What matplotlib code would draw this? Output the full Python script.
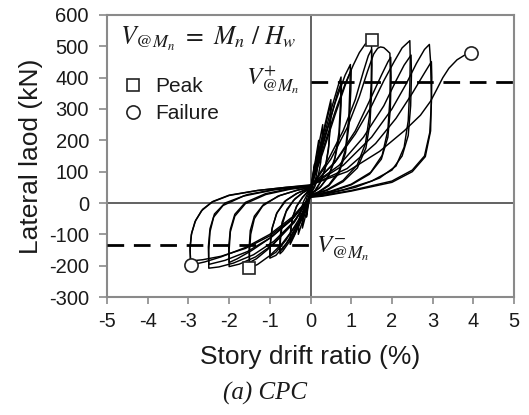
import matplotlib
matplotlib.use("Agg")
import matplotlib.pyplot as plt

plt.rcParams['font.family'] = ['Liberation Sans', 'DejaVu Sans']
plt.rcParams['mathtext.fontset'] = 'stix'
plt.rcParams['axes.unicode_minus'] = False

# ---------------- data ----------------
x_ticks = [-5, -4, -3, -2, -1, 0, 1, 2, 3, 4, 5]
y_ticks = [-300, -200, -100, 0, 100, 200, 300, 400, 500, 600]

V_pos = 387     # V+ @Mn  (kN)
V_neg = -134    # V- @Mn  (kN)

peak_x = [1.5, -1.5]
peak_y = [520, -208]
failure_x = [3.95, -2.94]
failure_y = [480, -198]

loop_01 = [(0.0, 40), (0.05, 85), (0.1, 125), (0.09, 90), (0.06, 60), (0.03, 40), (0.0, 28),
           (-0.05, -5), (-0.1, -45), (-0.09, -20), (-0.06, 10), (-0.03, 28), (0.0, 40)]
loop_02 = [(0.0, 40), (0.1, 120), (0.2, 200), (0.19, 150), (0.16, 100), (0.1, 60), (0.05, 40), (0.0, 28),
           (-0.1, -30), (-0.2, -80), (-0.19, -50), (-0.15, -10), (-0.08, 20), (0.0, 40)]
loop_03 = [(0.0, 42), (0.15, 150), (0.3, 250), (0.29, 195), (0.25, 130), (0.18, 80), (0.1, 50), (0.0, 30),
           (-0.15, -40), (-0.3, -100), (-0.29, -70), (-0.25, -30), (-0.17, 5), (-0.08, 28), (0.0, 42)]
loop_04 = [(0.0, 42), (0.2, 165), (0.4, 275), (0.5, 330), (0.49, 270), (0.45, 185), (0.37, 115), (0.25, 68),
           (0.12, 40), (0.0, 28), (-0.2, -45), (-0.4, -105), (-0.5, -132), (-0.49, -95), (-0.45, -50),
           (-0.35, -12), (-0.2, 18), (-0.08, 35), (0.0, 44)]
loop_05 = [(0.0, 44), (0.2, 155), (0.4, 265), (0.5, 318), (0.49, 255), (0.44, 170), (0.35, 105), (0.22, 62),
           (0.1, 38), (0.0, 26), (-0.2, -48), (-0.4, -102), (-0.5, -125), (-0.49, -88), (-0.44, -45),
           (-0.33, -8), (-0.18, 20), (0.0, 45)]
loop_06 = [(0.0, 45), (0.25, 175), (0.5, 295), (0.68, 375), (0.75, 402), (0.74, 330), (0.7, 225), (0.6, 145),
           (0.45, 88), (0.25, 52), (0.0, 28), (-0.25, -58), (-0.5, -120), (-0.68, -153), (-0.75, -162),
           (-0.74, -120), (-0.7, -72), (-0.6, -28), (-0.42, 8), (-0.2, 32), (0.0, 46)]
loop_07 = [(0.0, 46), (0.25, 160), (0.5, 272), (0.66, 350), (0.76, 385), (0.75, 310), (0.7, 205), (0.58, 130),
           (0.42, 80), (0.22, 48), (0.0, 27), (-0.25, -52), (-0.5, -112), (-0.68, -146), (-0.76, -155),
           (-0.75, -112), (-0.7, -62), (-0.58, -20), (-0.38, 14), (-0.18, 34), (0.0, 47)]
loop_08 = [(0.0, 47), (0.3, 190), (0.6, 318), (0.85, 408), (0.98, 442), (0.97, 380), (0.94, 270), (0.86, 172),
           (0.7, 102), (0.45, 58), (0.2, 36), (0.0, 25), (-0.3, -65), (-0.6, -130), (-0.85, -167),
           (-1.0, -176), (-0.99, -138), (-0.95, -85), (-0.84, -35), (-0.64, 5), (-0.35, 30), (0.0, 48)]
loop_09 = [(0.0, 48), (0.3, 160), (0.6, 280), (0.85, 375), (1.0, 425), (0.99, 360), (0.95, 255), (0.86, 160),
           (0.7, 95), (0.45, 55), (0.2, 34), (0.0, 24), (-0.3, -55), (-0.6, -118), (-0.85, -157),
           (-1.0, -170), (-0.99, -130), (-0.94, -78), (-0.82, -30), (-0.6, 8), (-0.3, 33), (0.0, 50)]
loop_10 = [(0.0, 50), (0.3, 170), (0.6, 290), (0.85, 380), (1.05, 440), (1.2, 480), (1.35, 508), (1.5, 520),
           (1.5, 470), (1.49, 380), (1.45, 280), (1.35, 190), (1.15, 122), (0.8, 72), (0.4, 42), (0.0, 25),
           (-0.3, -62), (-0.7, -130), (-1.0, -168), (-1.3, -196), (-1.5, -208), (-1.5, -160), (-1.47, -100),
           (-1.38, -50), (-1.18, -10), (-0.8, 22), (-0.35, 40), (0.0, 50)]
loop_11 = [(0.0, 50), (0.4, 130), (0.8, 230), (1.1, 330), (1.3, 420), (1.42, 470), (1.5, 490), (1.51, 440),
           (1.5, 350), (1.46, 255), (1.36, 175), (1.15, 112), (0.8, 68), (0.4, 40), (0.0, 24), (-0.35, -50),
           (-0.75, -108), (-1.05, -148), (-1.33, -178), (-1.5, -190), (-1.51, -145), (-1.48, -88),
           (-1.38, -42), (-1.15, -4), (-0.75, 24), (-0.3, 42), (0.0, 50)]
loop_12 = [(0.0, 50), (0.5, 140), (0.9, 240), (1.2, 340), (1.4, 420), (1.55, 475), (1.65, 494), (1.72, 498),
           (1.8, 496), (1.87, 488), (1.95, 478), (1.96, 420), (1.95, 330), (1.9, 232), (1.76, 152),
           (1.48, 98), (1.0, 60), (0.5, 38), (0.0, 24), (-0.4, -62), (-0.9, -130), (-1.35, -172),
           (-1.75, -195), (-2.0, -203), (-2.0, -150), (-1.97, -92), (-1.86, -42), (-1.6, -2), (-1.1, 27),
           (-0.5, 44), (0.0, 52)]
loop_13 = [(0.0, 52), (0.6, 130), (1.1, 230), (1.5, 340), (1.75, 410), (1.9, 450), (1.97, 465), (1.98, 400),
           (1.96, 300), (1.9, 210), (1.74, 140), (1.45, 92), (1.0, 58), (0.5, 36), (0.0, 22), (-0.45, -52),
           (-0.95, -108), (-1.45, -152), (-1.8, -178), (-2.0, -190), (-2.01, -140), (-1.97, -84),
           (-1.86, -36), (-1.6, 2), (-1.1, 30), (-0.5, 46), (0.0, 52)]
loop_14 = [(0.0, 52), (0.6, 130), (1.1, 220), (1.5, 310), (1.8, 390), (2.05, 450), (2.25, 495), (2.44, 518),
           (2.45, 460), (2.44, 370), (2.4, 262), (2.3, 178), (2.1, 118), (1.7, 80), (1.1, 50), (0.5, 32),
           (0.0, 22), (-0.4, -58), (-0.9, -122), (-1.4, -165), (-1.9, -192), (-2.25, -204), (-2.5, -208),
           (-2.5, -152), (-2.47, -92), (-2.38, -45), (-2.15, -8), (-1.65, 22), (-0.9, 42), (0.0, 54)]
loop_15 = [(0.0, 54), (0.7, 120), (1.3, 210), (1.8, 310), (2.1, 390), (2.3, 440), (2.47, 472), (2.48, 410),
           (2.46, 310), (2.4, 215), (2.25, 150), (2.0, 105), (1.5, 70), (0.8, 42), (0.0, 20), (-0.45, -52),
           (-1.0, -112), (-1.55, -155), (-2.1, -183), (-2.5, -196), (-2.51, -140), (-2.47, -82),
           (-2.36, -35), (-2.1, 0), (-1.55, 27), (-0.8, 45), (0.0, 55)]
loop_16 = [(0.0, 55), (0.8, 120), (1.5, 210), (2.0, 300), (2.35, 380), (2.6, 445), (2.8, 490), (2.92, 506),
           (2.95, 450), (2.97, 340), (2.95, 230), (2.82, 148), (2.5, 100), (2.0, 66), (1.0, 38), (0.3, 22),
           (0.0, 18), (-0.45, -50), (-1.0, -105), (-1.6, -145), (-2.2, -170), (-2.65, -181), (-2.95, -185),
           (-2.96, -140), (-2.92, -95), (-2.82, -55), (-2.65, -20), (-2.4, 5), (-2.0, 25), (-1.3, 40),
           (-0.6, 50), (0.0, 56)]
loop_17 = [(0.0, 56), (0.9, 110), (1.6, 190), (2.1, 270), (2.5, 350), (2.8, 415), (2.97, 451), (2.98, 400),
           (2.97, 320), (2.93, 225), (2.8, 150), (2.5, 105), (2.0, 70), (1.0, 40), (0.3, 24), (0.0, 20),
           (-0.45, -45), (-1.0, -100), (-1.6, -142), (-2.2, -172), (-2.6, -188), (-2.94, -198),
           (-2.96, -150), (-2.93, -102), (-2.84, -60), (-2.68, -25), (-2.42, 3), (-2.0, 24), (-1.3, 40),
           (-0.6, 50), (0.0, 58)]
loop_18 = [(0.0, 58), (0.9, 100), (1.7, 165), (2.3, 230), (2.7, 280), (2.95, 325), (3.1, 362), (3.25, 400),
           (3.4, 430), (3.6, 457), (3.8, 473), (3.95, 480)]

loops = [loop_01, loop_02, loop_03, loop_04, loop_05, loop_06, loop_07, loop_08, loop_09,
         loop_10, loop_11, loop_12, loop_13, loop_14, loop_15, loop_16, loop_17, loop_18]

# ---------------- figure ----------------
fig = plt.figure(figsize=(5.29, 4.15), dpi=100)
ax = fig.add_axes([0.2023, 0.2843, 0.7694, 0.6796])

ax.set_xlim(-5, 5)
ax.set_ylim(-300, 600)
ax.set_xticks(x_ticks)
ax.set_yticks(y_ticks)

spine_col = '#8a8a8a'
for s in ax.spines.values():
    s.set_color(spine_col)
    s.set_linewidth(1.5)
ax.tick_params(direction='out', length=5, width=1.2, color=spine_col, labelsize=14.5,
               labelcolor='#1a1a1a')
ax.tick_params(axis='x', pad=6)
ax.tick_params(axis='y', pad=7, length=6)

# zero lines
ax.axhline(0, color='#555555', lw=1.3, zorder=1)
ax.axvline(0, color='#555555', lw=1.3, zorder=1)

for lp in loops:
    xs = [p[0] for p in lp]
    ys = [p[1] for p in lp]
    ax.plot(xs, ys, color='black', lw=1.05, zorder=3, solid_joinstyle='round')

# V@Mn dashed lines
ax.plot([0, 5], [V_pos, V_pos], color='black', lw=2.0, dashes=(6, 3.5), zorder=4)
ax.plot([-5, 0], [V_neg, V_neg], color='black', lw=2.0, dashes=(6, 3.5), zorder=4)

# markers
ax.plot(peak_x, peak_y, ls='none', marker='s', ms=9, mfc='white', mec='#222222', mew=1.2, zorder=5)
ax.plot(failure_x, failure_y, ls='none', marker='o', ms=9.5, mfc='white', mec='#222222', mew=1.2, zorder=5)

# legend (manual)
ax.plot([0.065], [0.752], transform=ax.transAxes, marker='s', ms=9, mfc='white', mec='#222222',
        mew=1.2, ls='none')
ax.plot([0.065], [0.656], transform=ax.transAxes, marker='o', ms=9.5, mfc='white', mec='#222222',
        mew=1.2, ls='none')
ax.text(0.118, 0.748, 'Peak', transform=ax.transAxes, fontsize=15, va='center', ha='left', color='#1a1a1a')
ax.text(0.118, 0.652, 'Failure', transform=ax.transAxes, fontsize=15, va='center', ha='left', color='#1a1a1a')

# annotations
ax.text(0.032, 0.895, r'$V_{@M_n}\ =\ M_n\ /\ H_w$', transform=ax.transAxes, fontsize=18.5,
        va='baseline', ha='left', color='#1a1a1a')
ax.text(0.342, 0.77, r'$V^{+}_{@M_n}$', transform=ax.transAxes, fontsize=18,
        va='center', ha='left', color='#1a1a1a')
ax.text(0.514, 0.172, r'$V^{-}_{@M_n}$', transform=ax.transAxes, fontsize=18,
        va='center', ha='left', color='#1a1a1a')

# axis labels & caption
fig.text(0.587, 0.140, 'Story drift ratio (%)', fontsize=19, ha='center', va='center', color='#1a1a1a')
fig.text(0.0586, 0.624, 'Lateral laod (kN)', fontsize=19, ha='center', va='center', rotation=90,
         color='#1a1a1a')
fig.text(0.501, 0.053, '(a) CPC', fontsize=18, ha='center', va='center', color='#1a1a1a',
         family='Liberation Serif', style='italic')

fig.savefig('out.png', dpi=100)
